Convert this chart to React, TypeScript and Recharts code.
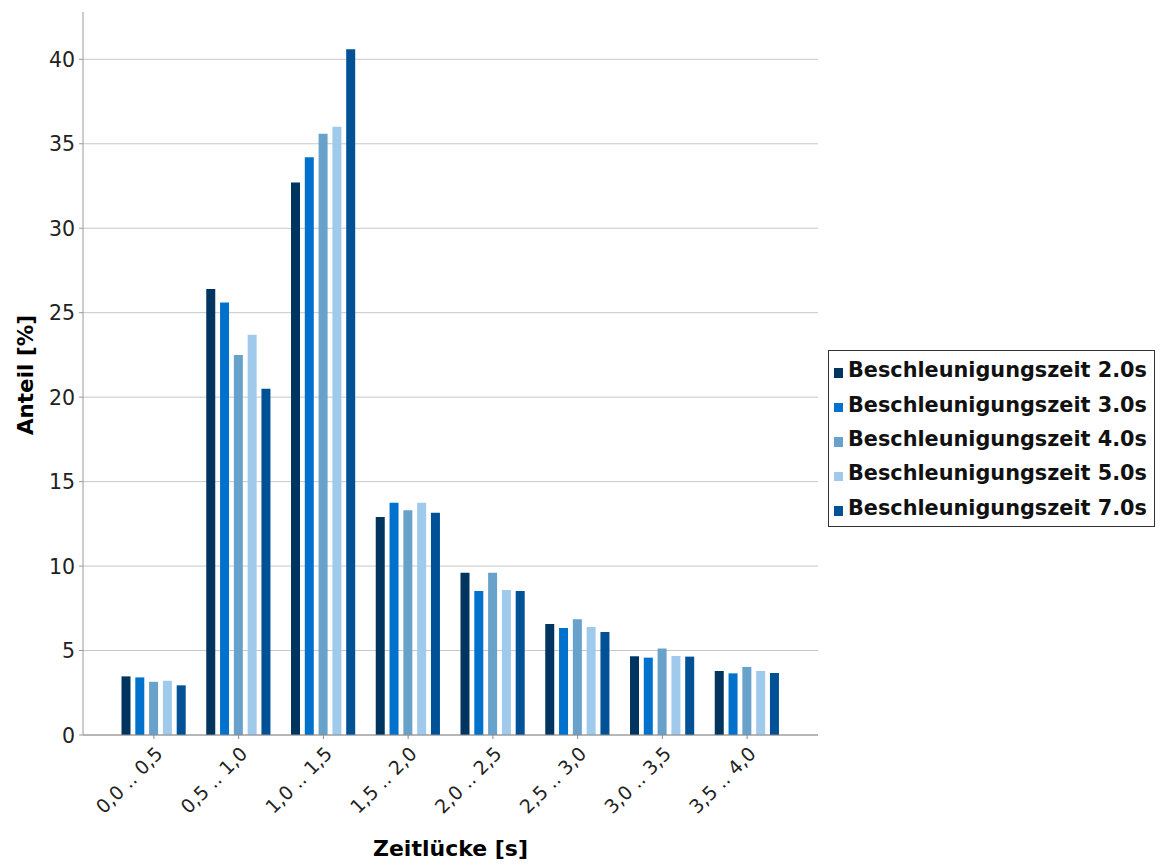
import React from 'react';
import { BarChart, Bar, XAxis, YAxis, CartesianGrid, Legend, Label } from 'recharts';

const categories = ['0,0 .. 0,5', '0,5 .. 1,0', '1,0 .. 1,5', '1,5 .. 2,0', '2,0 .. 2,5', '2,5 .. 3,0', '3,0 .. 3,5', '3,5 .. 4,0'];
const series20 = [3.47, 26.4, 32.7, 12.9, 9.6, 6.57, 4.66, 3.79];
const series30 = [3.41, 25.6, 34.2, 13.75, 8.53, 6.33, 4.58, 3.65];
const series40 = [3.15, 22.5, 35.6, 13.3, 9.6, 6.85, 5.12, 4.03];
const series50 = [3.21, 23.7, 36.0, 13.75, 8.59, 6.39, 4.68, 3.79];
const series70 = [2.94, 20.5, 40.6, 13.15, 8.53, 6.09, 4.64, 3.67];
const seriesNames = ['Beschleunigungszeit 2.0s', 'Beschleunigungszeit 3.0s', 'Beschleunigungszeit 4.0s', 'Beschleunigungszeit 5.0s', 'Beschleunigungszeit 7.0s'];
const seriesKeys = ['s20', 's30', 's40', 's50', 's70'];
const seriesColors = ['#003560', '#0072ce', '#68a2cb', '#a0caec', '#005195'];
const yTicks = [0, 5, 10, 15, 20, 25, 30, 35, 40];
const xTitle = 'Zeitlücke [s]';
const yTitle = 'Anteil [%]';

const allSeries = [series20, series30, series40, series50, series70];
const data = categories.map((c, i) => {
  const row: any = { cat: c };
  seriesKeys.forEach((k, j) => { row[k] = allSeries[j][i]; });
  return row;
});

const FONT = '"DejaVu Sans", Verdana, sans-serif';

const XTick = (props: any) => {
  const { x, y, payload } = props;
  return (
    <g transform={`translate(${x + 10},${y + 14})`}>
      <text transform="rotate(-45)" textAnchor="end" fill="#222"
        style={{ fontFamily: FONT, fontSize: 19 }}>{payload.value}</text>
    </g>
  );
};

const YTick = (props: any) => {
  const { x, y, payload } = props;
  return (
    <text x={x} y={y} dy={7.5} textAnchor="end" fill="#222"
      style={{ fontFamily: FONT, fontSize: 20.5 }}>{payload.value}</text>
  );
};

const YLabel = (props: any) => {
  const { viewBox } = props;
  const cx = viewBox.x + 33;
  const cy = viewBox.y + viewBox.height / 2 + 1.5;
  return (
    <text x={cx} y={cy} transform={`rotate(-90, ${cx}, ${cy})`} textAnchor="middle" fill="#000"
      style={{ fontFamily: FONT, fontSize: 21.5, fontWeight: 'bold' }}>{yTitle}</text>
  );
};

const XLabel = (props: any) => {
  const { viewBox } = props;
  const cx = viewBox.x + viewBox.width / 2;
  const by = viewBox.y + viewBox.height - 8;
  return (
    <text x={cx} y={by} textAnchor="middle" fill="#000"
      style={{ fontFamily: FONT, fontSize: 22, fontWeight: 'bold' }}>{xTitle}</text>
  );
};

const LegendContent = () => (
  <div style={{ width: 325, border: '1px solid #333', background: '#fff', padding: '2px 0 1px 0', boxSizing: 'content-box' }}>
    {seriesNames.map((n, i) => (
      <div key={n} style={{ height: 34.4, display: 'flex', alignItems: 'center' }}>
        <span style={{ width: 9.5, height: 9.5, background: seriesColors[i], marginLeft: 4.5, marginRight: 5, marginTop: 6, display: 'inline-block', flex: 'none' }} />
        <span style={{ fontFamily: FONT, fontWeight: 'bold', fontSize: 20.8, color: '#111', whiteSpace: 'nowrap' }}>{n}</span>
      </div>
    ))}
  </div>
);

export default function App() {
  return (
    <div style={{ position: 'absolute', left: 0, top: 0, background: '#fff' }}>
      <BarChart width={1161} height={864} data={data} margin={{ top: 12, right: 343, bottom: 0, left: 0 }}
        barSize={9} barGap={4.8}>
        <CartesianGrid vertical={false} stroke="#c8c8c8" horizontalValues={yTicks} />
        <XAxis dataKey="cat" height={129} padding={{ left: 28.5, right: 28.5 }} interval={0}
          axisLine={{ stroke: '#8a8a8a' }} tickLine={{ stroke: '#8a8a8a' }} tickSize={4} tickMargin={2}
          tick={<XTick />}>
          <Label content={<XLabel />} />
        </XAxis>
        <YAxis width={83} domain={[0, 42.8]} ticks={yTicks} interval={0} allowDataOverflow
          axisLine={{ stroke: '#9a9a9a' }} tickLine={{ stroke: '#9a9a9a' }} tickSize={4} tickMargin={4}
          tick={<YTick />}>
          <Label content={<YLabel />} />
        </YAxis>
        <Legend layout="vertical" align="center" verticalAlign="middle" content={<LegendContent />}
          wrapperStyle={{ left: 828, top: 350, width: 327, height: 'auto' }} />
        {seriesKeys.map((k, i) => (
          <Bar key={k} dataKey={k} name={seriesNames[i]} fill={seriesColors[i]} isAnimationActive={false} />
        ))}
      </BarChart>
    </div>
  );
}
